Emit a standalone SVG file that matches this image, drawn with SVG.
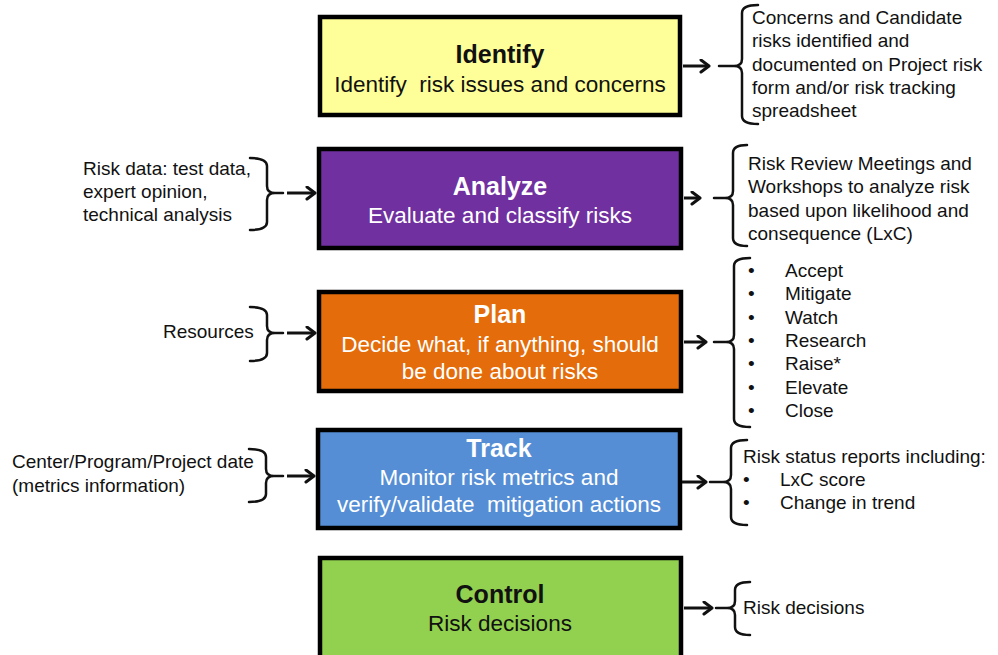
<svg xmlns="http://www.w3.org/2000/svg" width="998" height="655" viewBox="0 0 998 655">
<style>
.box{stroke:#000;stroke-width:4.5}
.t{font-family:"Liberation Sans",Arial,sans-serif;font-size:25px;font-weight:bold;text-anchor:middle}
.s{font-family:"Liberation Sans",Arial,sans-serif;font-size:22.5px;text-anchor:middle}
.w{fill:#fff}
.k{fill:#111}
.side{font-family:"Liberation Sans",Arial,sans-serif;font-size:19px;fill:#111}
.br{fill:none;stroke:#111;stroke-width:2.5;stroke-linecap:round;stroke-linejoin:round}
.ln{fill:none;stroke:#111;stroke-width:3}
.ar{fill:none;stroke:#111;stroke-width:3;marker-end:url(#ah)}
</style>
<defs>
<marker id="ah" markerUnits="userSpaceOnUse" markerWidth="14" markerHeight="16" refX="10" refY="7" orient="auto" viewBox="0 0 14 16">
<path d="M2,1 L10,7 L2,13" fill="none" stroke="#111" stroke-width="3" stroke-linecap="round" stroke-linejoin="round"/>
</marker>
</defs>
<rect width="998" height="655" fill="#fff"/>

<g id="identify">
<rect class="box" x="320" y="17" width="360" height="98" fill="#FFFF99"/>
<text class="t k" x="500" y="63">Identify</text>
<text class="s k" x="500" y="92" xml:space="preserve">Identify  risk issues and concerns</text>
</g>
<g id="analyze">
<rect class="box" x="319" y="149" width="362" height="99" fill="#7030A0"/>
<text class="t w" x="500" y="195">Analyze</text>
<text class="s w" x="500" y="223">Evaluate and classify risks</text>
</g>
<g id="plan">
<rect class="box" x="319" y="292" width="362" height="99" fill="#E46C0A"/>
<text class="t w" x="500" y="323">Plan</text>
<text class="s w" x="500" y="352">Decide what, if anything, should</text>
<text class="s w" x="500" y="379">be done about risks</text>
</g>
<g id="track">
<rect class="box" x="318" y="430" width="362" height="98" fill="#558ED5"/>
<text class="t w" x="499" y="457">Track</text>
<text class="s w" x="499" y="485">Monitor risk metrics and</text>
<text class="s w" x="499" y="512" xml:space="preserve">verify/validate  mitigation actions</text>
</g>
<g id="control">
<rect class="box" x="320" y="558" width="361" height="112" fill="#92D050"/>
<text class="t k" x="500" y="603">Control</text>
<text class="s k" x="500" y="631">Risk decisions</text>
</g>

<g id="in-analyze">
<text class="side" x="83" y="175">Risk data: test data,</text>
<text class="side" x="83" y="198">expert opinion,</text>
<text class="side" x="83" y="221">technical analysis</text>
</g>
<g id="in-plan">
<text class="side" x="163" y="338">Resources</text>
</g>
<g id="in-track">
<text class="side" x="12" y="468">Center/Program/Project date</text>
<text class="side" x="12" y="492">(metrics information)</text>
</g>

<g id="out-identify">
<text class="side" x="752" y="24">Concerns and Candidate</text>
<text class="side" x="752" y="47">risks identified and</text>
<text class="side" x="752" y="71">documented on Project risk</text>
<text class="side" x="752" y="94">form and/or risk tracking</text>
<text class="side" x="752" y="117">spreadsheet</text>
</g>
<g id="out-analyze">
<text class="side" x="748" y="170">Risk Review Meetings and</text>
<text class="side" x="748" y="193">Workshops to analyze risk</text>
<text class="side" x="748" y="217">based upon likelihood and</text>
<text class="side" x="748" y="240">consequence (LxC)</text>
</g>
<g id="out-plan">
<text class="side" x="748" y="277">•</text><text class="side" x="785" y="277">Accept</text>
<text class="side" x="748" y="300">•</text><text class="side" x="785" y="300">Mitigate</text>
<text class="side" x="748" y="324">•</text><text class="side" x="785" y="324">Watch</text>
<text class="side" x="748" y="347">•</text><text class="side" x="785" y="347">Research</text>
<text class="side" x="748" y="370">•</text><text class="side" x="785" y="370">Raise*</text>
<text class="side" x="748" y="394">•</text><text class="side" x="785" y="394">Elevate</text>
<text class="side" x="748" y="417">•</text><text class="side" x="785" y="417">Close</text>
</g>
<g id="out-track">
<text class="side" x="743" y="463">Risk status reports including:</text>
<text class="side" x="743" y="486">•</text><text class="side" x="780" y="486">LxC score</text>
<text class="side" x="743" y="509">•</text><text class="side" x="780" y="509">Change in trend</text>
</g>
<g id="out-control">
<text class="side" x="743" y="614">Risk decisions</text>
</g>

<g id="connectors">
<!-- left braces -->
<path class="br" d="M250,158 Q267,158 267,166 L267,186 Q267,193 275,193 L283,193 M275,193 Q267,193 267,200 L267,222 Q267,230 250,230"/>
<line class="ar" x1="287" y1="193" x2="315" y2="193"/>
<path class="br" d="M250,307 Q267,307 267,315 L267,326 Q267,333 275,333 L283,333 M275,333 Q267,333 267,340 L267,353 Q267,361 250,361"/>
<line class="ar" x1="287" y1="333" x2="315" y2="333"/>
<path class="br" d="M249,449 Q266,449 266,457 L266,469 Q266,476 274,476 L283,476 M274,476 Q266,476 266,483 L266,494 Q266,502 249,502"/>
<line class="ar" x1="287" y1="476" x2="314" y2="476"/>

<!-- right side -->
<line class="ar" x1="683" y1="66" x2="709" y2="66"/>
<path class="br" d="M758,5 Q742,5 742,13 L742,59 Q742,66 734,66 L719,66 M734,66 Q742,66 742,73 L742,116 Q742,124 758,124"/>
<line class="ar" x1="684" y1="198" x2="700" y2="198"/>
<path class="br" d="M747,145 Q733,145 733,153 L733,191 Q733,198 725,198 L714,198 M725,198 Q733,198 733,205 L733,238 Q733,246 747,246"/>
<line class="ar" x1="684" y1="342" x2="706" y2="342"/>
<path class="br" d="M750,258 Q734,258 734,266 L734,335 Q734,342 726,342 L714,342 M726,342 Q734,342 734,349 L734,419 Q734,427 750,427"/>
<line class="ar" x1="682" y1="482" x2="706" y2="482"/>
<path class="br" d="M747,440 Q731,440 731,448 L731,475 Q731,482 723,482 L710,482 M723,482 Q731,482 731,489 L731,517 Q731,525 747,525"/>
<line class="ar" x1="684" y1="608" x2="712" y2="608"/>
<path class="br" d="M750,582 Q735,582 735,590 L735,601 Q735,608 727,608 L716,608 M727,608 Q735,608 735,615 L735,627 Q735,635 750,635"/>
</g>
</svg>
